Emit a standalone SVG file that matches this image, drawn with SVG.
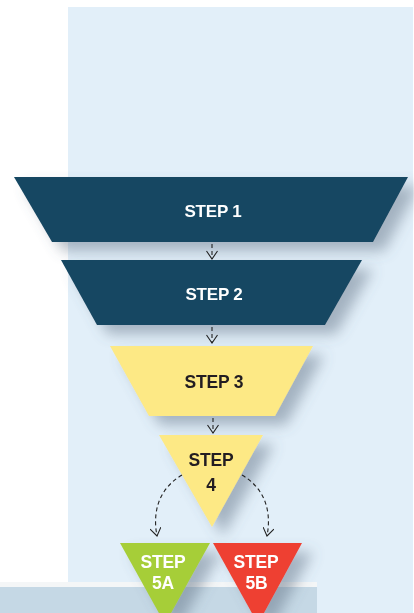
<svg xmlns="http://www.w3.org/2000/svg" width="414" height="613" viewBox="0 0 414 613">
<style>
.lbl{font-family:"Liberation Sans",Arial,sans-serif;font-weight:bold;text-anchor:middle;letter-spacing:-0.2px}
.w{fill:#ffffff}
.d{fill:#231f20}
.conn{fill:none;stroke:#222222;stroke-width:1.1;stroke-dasharray:4 3}
</style>
<defs>
<filter id="sh" x="-20%" y="-20%" width="150%" height="170%">
<feDropShadow dx="11" dy="9" stdDeviation="7" flood-color="#56697a" flood-opacity="0.45"/>
</filter>
<marker id="v" viewBox="0 0 12 12" refX="10" refY="6" markerWidth="12" markerHeight="12" markerUnits="userSpaceOnUse" orient="auto">
<path d="M2,0.5 L10,6 L2,11.5" fill="none" stroke="#222222" stroke-width="1.1"/>
</marker>
</defs>
<rect width="414" height="613" fill="#ffffff"/>
<rect x="68" y="7" width="345" height="606" fill="#e2eff9"/>
<rect x="0" y="582" width="317" height="5" fill="#f4f6f7"/>
<rect x="0" y="587" width="317" height="26" fill="#c5d8e5"/>

<g id="step1" filter="url(#sh)">
<polygon points="14,177 408,177 373,242 52,242" fill="#134762"/>
<text class="lbl w" x="213" y="217" font-size="17">STEP 1</text>
</g>
<g id="step2" filter="url(#sh)">
<polygon points="61,260 362,260 325,325 97,325" fill="#134762"/>
<text class="lbl w" x="214" y="300" font-size="17">STEP 2</text>
</g>
<g id="step3" filter="url(#sh)">
<polygon points="110,346 313,346 275,416 149,416" fill="#fde985"/>
<text class="lbl d" x="214" y="388" font-size="17.5">STEP 3</text>
</g>
<g id="step4" filter="url(#sh)">
<polygon points="159,435 263,435 212,527" fill="#fde985"/>
<text class="lbl d" x="211" y="466" font-size="17.5">STEP</text>
<text class="lbl d" x="211" y="491" font-size="17.5">4</text>
</g>
<g id="step5a" filter="url(#sh)">
<polygon points="120,543 210,543 165,624" fill="#a6ce39"/>
<text class="lbl w" x="163" y="567.5" font-size="17.5">STEP</text>
<text class="lbl w" x="163" y="588.5" font-size="17.5">5A</text>
</g>
<g id="step5b" filter="url(#sh)">
<polygon points="213,543 302,543 258,624" fill="#ee4130"/>
<text class="lbl w" x="256" y="567.5" font-size="17.5">STEP</text>
<text class="lbl w" x="256.5" y="588.5" font-size="17.5">5B</text>
</g>

<g id="connectors">
<path class="conn" d="M212,244 L212,259" marker-end="url(#v)"/>
<path class="conn" d="M212,327 L212,343" marker-end="url(#v)"/>
<path class="conn" d="M213,418 L213,433" marker-end="url(#v)"/>
<path class="conn" d="M182,475 C160,488 152,510 157,536" marker-end="url(#v)"/>
<path class="conn" d="M242,475 C264,488 272,510 267,536" marker-end="url(#v)"/>
</g>
</svg>
